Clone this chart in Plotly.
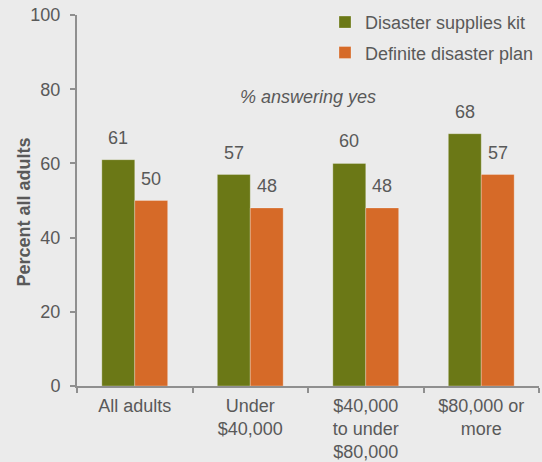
import plotly.graph_objects as go

categories = ["All adults", "Under<br>$40,000", "$40,000<br>to under<br>$80,000", "$80,000 or<br>more"]
supplies_kit = [61, 57, 60, 68]
disaster_plan = [50, 48, 48, 57]
series_names = ["Disaster supplies kit", "Definite disaster plan"]
colors = ["#6b7816", "#d66a28"]

W, H = 542, 462
margin = dict(l=77, r=3, t=15, b=76)
bargap = 0.43
font_family = "Liberation Sans, Arial, sans-serif"
text_color = "#595959"
axis_color = "#8f8f8f"
fs = 18

fig = go.Figure()
for name, vals, col in zip(series_names, [supplies_kit, disaster_plan], colors):
    fig.add_trace(go.Bar(
        x=categories, y=vals, name=name,
        marker=dict(color=col, line=dict(color="rgba(255,255,255,0.35)", width=0.8)),
        legendgroup=name,
    ))

# value labels sitting a little above each bar
plot_w = W - margin["l"] - margin["r"]
cat_w = plot_w / len(categories)
bar_w = cat_w * (1 - bargap) / 2
annotations = []
for k, vals in enumerate([supplies_kit, disaster_plan]):
    shift = (-0.5 if k == 0 else 0.5) * bar_w
    for c, v in zip(categories, vals):
        annotations.append(dict(
            x=c, y=v, xref="x", yref="y", text=str(v), showarrow=False,
            xshift=shift, yshift=22, yanchor="middle",
            font=dict(size=fs, color=text_color, family=font_family),
        ))

annotations.append(dict(
    x=0.5, y=78, xref="paper", yref="y", text="<i>% answering yes</i>",
    showarrow=False, font=dict(size=fs, color=text_color, family=font_family),
))

# rotated y-axis title
annotations.append(dict(
    x=0, y=0.5, xref="paper", yref="paper", text="<b>Percent all adults</b>",
    showarrow=False, textangle=-90, xanchor="center", yanchor="middle",
    xshift=-54, yshift=-12,
    font=dict(size=fs, color=text_color, family=font_family),
))

fig.update_layout(
    width=W, height=H, margin=margin,
    paper_bgcolor="#ebebeb", plot_bgcolor="#ebebeb",
    barmode="group", bargap=bargap, bargroupgap=0,
    font=dict(family=font_family, size=fs, color=text_color),
    showlegend=True,
    legend=dict(x=1.0, xanchor="right", y=1.03, yanchor="top",
                bgcolor="rgba(0,0,0,0)", tracegroupgap=4,
                font=dict(size=fs, color=text_color)),
    annotations=annotations,
    xaxis=dict(
        showline=True, linecolor=axis_color, linewidth=2, automargin=False,
        ticks="outside", tickson="boundaries", ticklen=5, tickcolor=axis_color, tickwidth=2,
        tickfont=dict(size=fs, color=text_color), ticklabelstandoff=2,
        showgrid=False, zeroline=False,
    ),
    yaxis=dict(
        range=[0, 100], dtick=20, automargin=False,
        showline=True, linecolor=axis_color, linewidth=2,
        ticks="outside", ticklen=5, tickcolor=axis_color, tickwidth=2,
        tickfont=dict(size=fs, color=text_color), ticklabelstandoff=6,
        showgrid=False, zeroline=False,
    ),
)

fig.write_html("out.html")
